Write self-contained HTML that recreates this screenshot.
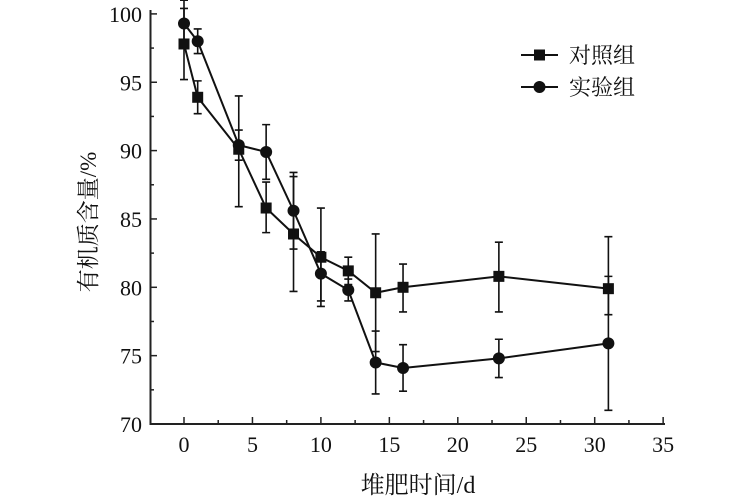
<!DOCTYPE html><html><head><meta charset="utf-8"><style>body{margin:0;background:#fff}svg{display:block}text{font-family:"Liberation Serif","Noto Serif CJK SC",serif;fill:#111}</style></head><body>
<svg id="s" width="750" height="500" viewBox="0 0 750 500"></svg>
<script>
const s=document.getElementById('s');let h='';
const X=d=>184+d*13.69, Y=v=>424-(v-70)*13.67;
h+='<path d="M150.5,10V424H665" fill="none" stroke="#222" stroke-width="2"/>';
for(let v=70;v<=100;v+=2.5){const y=Y(v),maj=v%5==0;h+=`<line x1="150" x2="${maj?157:154}" y1="${y}" y2="${y}" stroke="#222" stroke-width="1.5"/>`;if(maj)h+=`<text x="142" y="${y+8}" font-size="22" text-anchor="end">${v}</text>`;}
for(let d=0;d<=35;d+=2.5){const x=X(d),maj=d%5==0;h+=`<line x1="${x}" x2="${x}" y1="424" y2="${maj?417:420}" stroke="#222" stroke-width="1.5"/>`;if(maj)h+=`<text x="${x}" y="452" font-size="22" text-anchor="middle">${d}</text>`;}
const c=[[0,97.8,95.2,100.4],[1,93.9,92.7,95.1],[4,90.1,85.9,91.5],[6,85.8,84,87.7],[8,83.9,79.7,88.1],[10,82.2,78.6,85.8],[12,81.2,80.2,82.2],[14,79.6,75.3,83.9],[16,80,78.2,81.7],[23,80.8,78.2,83.3],[31,79.9,78,83.7]];
const e=[[0,99.3,98,101],[1,98,97.1,98.9],[4,90.4,89.3,94],[6,89.9,87.9,91.9],[8,85.6,82.8,88.4],[10,81,79,82.6],[12,79.8,79,80.6],[14,74.5,72.2,76.8],[16,74.1,72.4,75.8],[23,74.8,73.4,76.2],[31,75.9,71,80.8]];
function ser(a,sq){let p='';a.forEach((r,i)=>{p+=(i?'L':'M')+X(r[0])+','+Y(r[1]);});h+=`<path d="${p}" fill="none" stroke="#111" stroke-width="2"/>`;
a.forEach(r=>{const x=X(r[0]);h+=`<path d="M${x},${Y(r[2])}V${Y(r[3])}M${x-4},${Y(r[2])}H${x+4}M${x-4},${Y(r[3])}H${x+4}" stroke="#111" stroke-width="1.6" fill="none"/>`;
h+=sq?`<rect x="${x-5.5}" y="${Y(r[1])-5.5}" width="11" height="11" fill="#111"/>`:`<circle cx="${x}" cy="${Y(r[1])}" r="6" fill="#111"/>`;});}
ser(c,1);ser(e,0);
h+='<line x1="521" x2="558" y1="55" y2="55" stroke="#111" stroke-width="2"/><rect x="534" y="49.5" width="11" height="11" fill="#111"/><text x="569" y="63" font-size="22">对照组</text>';
h+='<line x1="521" x2="558" y1="87" y2="87" stroke="#111" stroke-width="2"/><circle cx="539.5" cy="87" r="6" fill="#111"/><text x="569" y="95" font-size="22">实验组</text>';
h+='<text transform="translate(96,222) rotate(-90)" font-size="23" text-anchor="middle">有机质含量/%</text>';
h+='<text x="418" y="493" font-size="24" text-anchor="middle">堆肥时间/d</text>';
s.innerHTML=h;
</script></body></html>
